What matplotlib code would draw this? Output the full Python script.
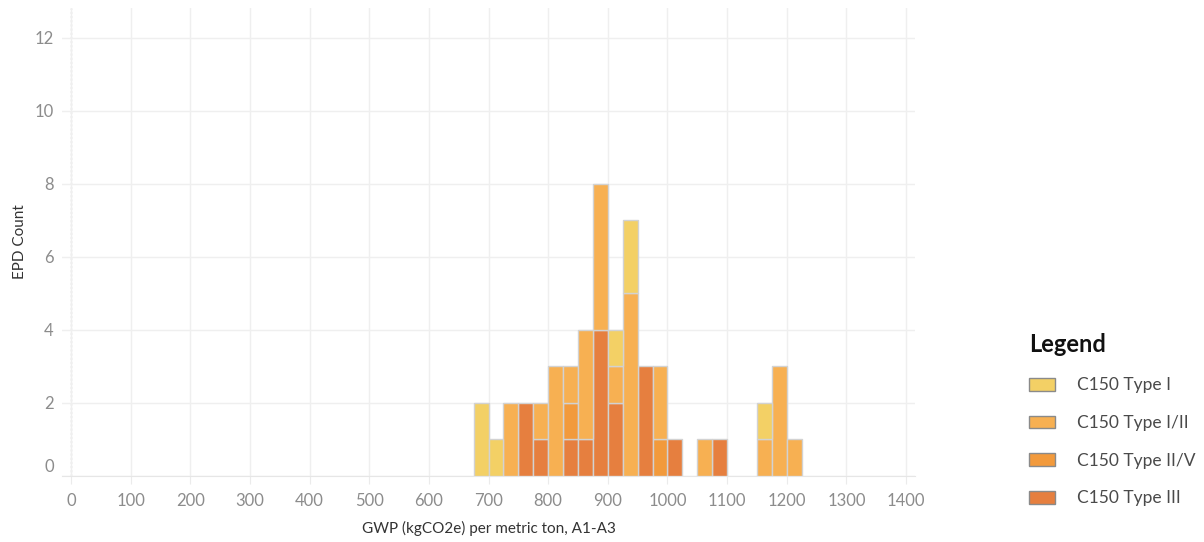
import matplotlib
matplotlib.use('Agg')

import matplotlib.pyplot as plt
from matplotlib.patches import Patch
from matplotlib.transforms import ScaledTranslation
import numpy as np

# bin left edges (kgCO2e per metric ton), bin width 25
bin_left = [675, 700, 725, 750, 775, 800, 825, 850, 875, 900, 925,
            950, 975, 1000, 1025, 1050, 1075, 1100, 1125, 1150, 1175, 1200]
bin_width = 25

type_i = [2, 1, 0, 0, 0, 0, 0, 0, 0, 1, 2, 0, 0, 0, 0, 0, 0, 0, 0, 1, 0, 0]
type_i_ii = [0, 0, 2, 0, 1, 3, 1, 3, 4, 1, 5, 0, 2, 0, 0, 1, 0, 0, 0, 1, 3, 1]
type_ii_v = [0, 0, 0, 0, 0, 0, 1, 0, 0, 0, 0, 0, 1, 0, 0, 0, 0, 0, 0, 0, 0, 0]
type_iii = [0, 0, 0, 2, 1, 0, 1, 1, 4, 2, 0, 3, 0, 1, 0, 0, 1, 0, 0, 0, 0, 0]

labels = ["C150 Type I", "C150 Type I/II", "C150 Type II/V", "C150 Type III"]
colors = ["#F3D065", "#F7B052", "#F29A3C", "#E67F3F"]

x_ticks = list(range(0, 1401, 100))
y_ticks = [0, 2, 4, 6, 8, 10, 12]

plt.rcParams['font.family'] = ['Lato', 'DejaVu Sans']

fig = plt.figure(figsize=(12.04, 5.42), dpi=100)
ax = fig.add_axes([62 / 1204, 1 - 476 / 542, (915 - 62) / 1204, (476 - 8) / 542])

# stacked from bottom: III, II/V, I/II, I
series = [type_iii, type_ii_v, type_i_ii, type_i]
series_colors = [colors[3], colors[2], colors[1], colors[0]]
bottom = np.zeros(len(bin_left))
for vals, col in zip(series, series_colors):
    vals = np.array(vals)
    mask = vals > 0
    ax.bar(np.array(bin_left)[mask], vals[mask], width=bin_width, bottom=bottom[mask],
           align='edge', color=col, edgecolor='#D2D2D2', linewidth=1.0, zorder=3)
    bottom = bottom + vals

ax.set_xlim(-15, 1415)
ax.set_ylim(0, 12.82)
ax.set_xticks(x_ticks)
ax.set_yticks(y_ticks)

ax.grid(True, color='#EFEFEF', linewidth=1.0, zorder=0)
ax.axvline(0, color='#C8C8C8', linestyle=(0, (1.5, 1.5)), linewidth=1.0, zorder=1)

for side in ['top', 'right', 'left']:
    ax.spines[side].set_visible(False)
ax.spines['bottom'].set_color('#E6E6E6')

ax.tick_params(axis='x', length=6, color='#EBEBEB', pad=6, labelsize=12, labelcolor='#8C8C8C')
ax.tick_params(axis='y', length=0, pad=6, labelsize=12, labelcolor='#8C8C8C')

# the zero label sits a little above the baseline, as in the original
zero_lbl = ax.get_yticklabels()[0]
zero_lbl.set_transform(zero_lbl.get_transform() + ScaledTranslation(0, 10 / 100, fig.dpi_scale_trans))

ax.set_xlabel("GWP (kgCO2e) per metric ton, A1-A3", fontsize=11, color='#333333', labelpad=9)
ax.set_ylabel("EPD Count", fontsize=11, color='#333333', labelpad=5)

handles = [Patch(facecolor=c, edgecolor='#8A8A8A', linewidth=1.0) for c in colors]
leg = fig.legend(handles, labels, loc='upper left', bbox_to_anchor=(1020 / 1204, 1 - 324 / 542),
                 frameon=False, fontsize=12.5, title="Legend",
                 title_fontproperties={'weight': 'bold', 'size': 17},
                 alignment='left', borderpad=0, handlelength=1.5, handleheight=0.75,
                 handletextpad=1.3, labelspacing=1.25)
for t in leg.get_texts():
    t.set_color('#4A4A4A')
leg.get_title().set_color('#111111')

fig.savefig("out.png", dpi=100)
plt.close(fig)
